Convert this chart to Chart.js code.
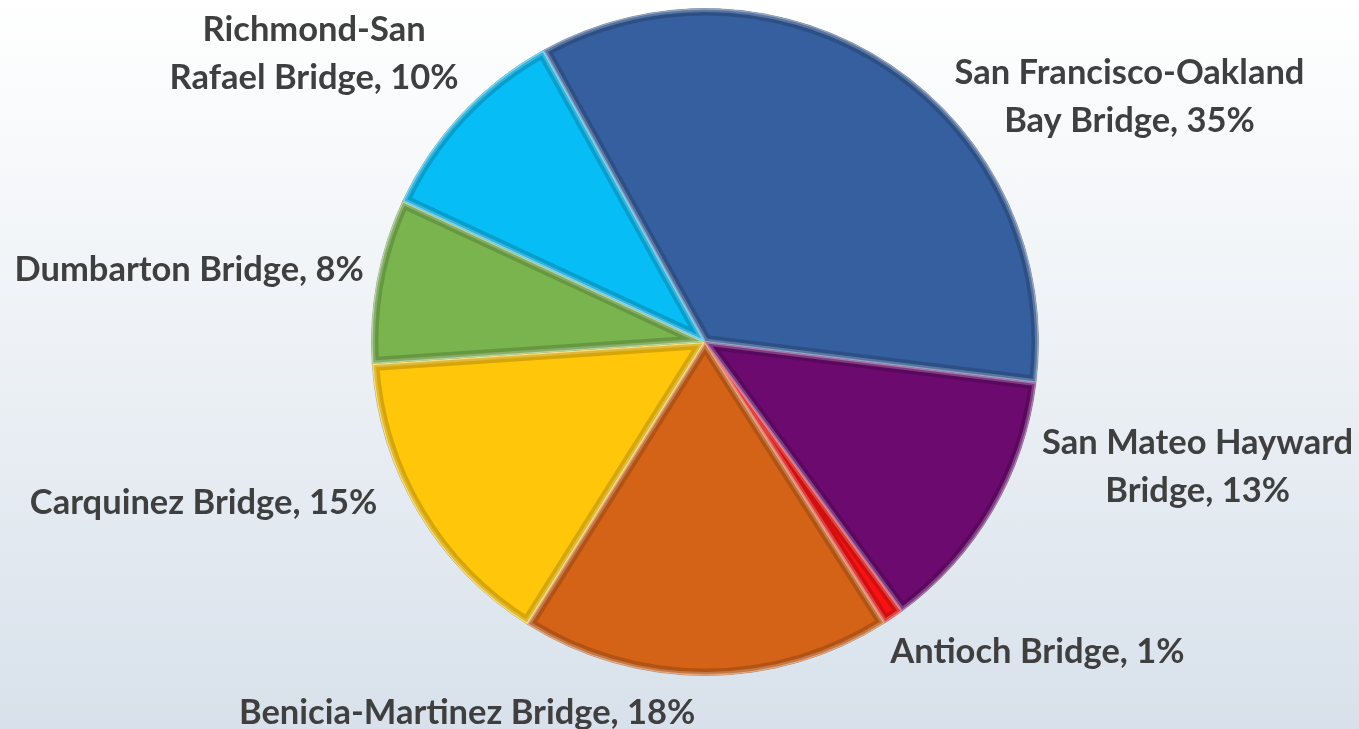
<!DOCTYPE html>
<html>
<head>
<meta charset="utf-8">
<script src="https://cdn.jsdelivr.net/npm/chart.js@4"></script>
<style>
  html, body { margin: 0; padding: 0; }
  body {
    width: 1359px; height: 729px; overflow: hidden;
    background: linear-gradient(to bottom, #ffffff 0%, #eef2f6 45%, #d8e1eb 100%);
  }
  #wrap { position: relative; width: 1359px; height: 729px; }
</style>
</head>
<body>
<div id="wrap"><canvas id="bridges"></canvas></div>
<script>
// bridge traffic share
var bridges = [
  ["San Francisco-Oakland", "Bay Bridge, 35%"],
  ["San Mateo Hayward", "Bridge, 13%"],
  ["Antioch Bridge, 1%"],
  ["Benicia-Martinez Bridge, 18%"],
  ["Carquinez Bridge, 15%"],
  ["Dumbarton Bridge, 8%"],
  ["Richmond-San", "Rafael Bridge, 10%"]
];
var shares = [35, 13, 1, 18, 15, 8, 10];

var sliceColors = ["#355f9f", "#6c0a70", "#fa1212", "#d46318", "#ffc60a", "#7ab44e", "#06bdf5"];
// label nudges from the slice's outer mid point
var labelNudge = [[238, 31], [205, -44], [144, 35], [-239, 37], [-215, -10], [-188, -11], [-147, -61]];

function tint(hex, amt) {
  var n = parseInt(hex.slice(1), 16);
  var r = (n >> 16) & 255, g = (n >> 8) & 255, b = n & 255;
  r = Math.round(r + (255 - r) * amt);
  g = Math.round(g + (255 - g) * amt);
  b = Math.round(b + (255 - b) * amt);
  return "rgb(" + r + "," + g + "," + b + ")";
}

// fake bevel on each slice
var bevel = {
  id: "bevel",
  afterDatasetsDraw: function (chart) {
    var ctx = chart.ctx;
    chart.getDatasetMeta(0).data.forEach(function (arc, i) {
      var p = arc.getProps(["x", "y", "startAngle", "endAngle", "outerRadius"], true);
      ctx.save();
      ctx.beginPath();
      ctx.moveTo(p.x, p.y);
      ctx.arc(p.x, p.y, p.outerRadius, p.startAngle, p.endAngle);
      ctx.closePath();
      ctx.clip();
      ctx.lineJoin = "round";
      ctx.strokeStyle = "rgba(0,0,0,0.16)";
      ctx.lineWidth = 14;
      ctx.stroke();
      ctx.strokeStyle = "rgba(255,255,255,0.22)";
      ctx.lineWidth = 7;
      ctx.stroke();
      ctx.strokeStyle = tint(sliceColors[i], 0.45);
      ctx.lineWidth = 2.5;
      ctx.stroke();
      ctx.restore();
    });
  }
};

var outsideLabels = {
  id: "outsideLabels",
  afterDraw: function (chart) {
    var ctx = chart.ctx;
    ctx.save();
    ctx.font = "bold 34.5px Lato, 'Open Sans', sans-serif";
    ctx.fillStyle = "#3f3f3f";
    ctx.textAlign = "center";
    ctx.textBaseline = "middle";
    var lineH = 48;
    chart.getDatasetMeta(0).data.forEach(function (arc, i) {
      var p = arc.getProps(["x", "y", "startAngle", "endAngle", "outerRadius"], true);
      var mid = (p.startAngle + p.endAngle) / 2;
      var cx = p.x + Math.cos(mid) * p.outerRadius + labelNudge[i][0];
      var cy = p.y + Math.sin(mid) * p.outerRadius + labelNudge[i][1];
      var lines = bridges[i];
      var top = cy - (lines.length - 1) * lineH / 2;
      lines.forEach(function (t, k) {
        ctx.fillText(t, cx, top + k * lineH);
      });
    });
    ctx.restore();
  }
};

var ctx = document.getElementById("bridges").getContext("2d");

var bridgeChart = new Chart(ctx, {
  type: "pie",
  data: {
    labels: bridges.map(function (l) { return l.join(" "); }),
    datasets: [
      {
        data: shares,
        backgroundColor: sliceColors,
        borderColor: "rgba(120,120,120,0.5)",
        borderWidth: 1,
      },
    ],
  },
  options: {
    responsive: true,
    maintainAspectRatio: false,
    animation: false,
    rotation: -29,
    layout: { padding: { left: 349, right: 298, top: 8, bottom: 53 } },
    plugins: {
      legend: { display: false },
      tooltip: { enabled: false },
    },
  },
  plugins: [bevel, outsideLabels],
});
</script>
</body>
</html>
